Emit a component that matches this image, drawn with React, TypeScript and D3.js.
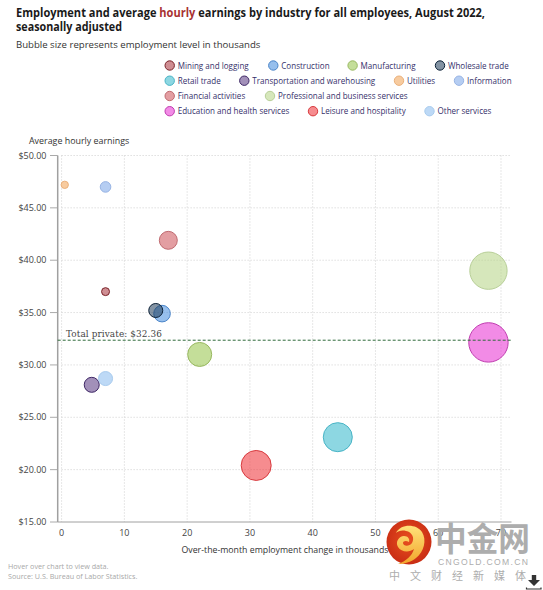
import React from "react";
import * as d3 from "d3";

const industries = ["Mining and logging","Construction","Manufacturing","Wholesale trade","Retail trade","Transportation and warehousing","Utilities","Information","Financial activities","Professional and business services","Education and health services","Leisure and hospitality","Other services"];
const employmentChange = [7,16,22,15,44,4.8,0.5,7,17,68,68,31,7];
const hourlyEarnings = [37.0,34.9,31.0,35.2,23.1,28.1,47.2,47.0,41.9,39.0,32.15,20.4,28.7];
const employmentLevel = [1000,4350,9100,3100,13300,3550,850,1770,5100,22000,24500,14200,3100];
const colors = ["#a8323a","#3f8ade","#93c245","#1d3a58","#2fb7cb","#56357f","#f0a050","#78a4e8","#cc4f55","#b4d484","#e82cd2","#ee2e33","#86baee"];
const strokes = ["#7a2228","#4a84c8","#98b860","#0d2238","#48b4c6","#3f2866","#eab07a","#98b4e4","#c06a70","#b8cf98","#c03cb0","#d83a3e","#a8cbee"];
const xTicks = [0,10,20,30,40,50,60,70];
const yTicks = [15,20,25,30,35,40,45,50];
const totalPrivate = 32.36;

const legendLayout: [number, number, number][] = [
  [0,169.7,65.5],[1,273.3,65.5],[2,352.6,65.5],[3,440,65.5],
  [4,169.7,80.7],[5,244.3,80.7],[6,399,80.7],[7,459,80.7],
  [8,169.7,96],[9,270,96],
  [10,169.7,111.2],[11,313,111.2],[12,429.5,111.2],
];

const FONT = "'Open Sans', 'Noto Sans', sans-serif";

export default function App() {
  const x = d3.scaleLinear().domain([0,70]).range([61.6,501]);
  const y = d3.scaleLinear().domain([15,50]).range([522,155.5]);
  const r = d3.scaleSqrt().domain([0,25000]).range([0,19.9]);
  const right = 511.5, axisX = 57.7;
  const order = d3.range(industries.length).sort((a,b)=>employmentLevel[b]-employmentLevel[a]);
  return (
    <svg width={543} height={590} viewBox="0 0 543 590" style={{position:"absolute",left:0,top:0,background:"#fff",fontFamily:FONT}}>
      <defs>
        <radialGradient id="logoG" cx="50%" cy="45%" r="55%">
          <stop offset="0%" stopColor="#e8501f"/><stop offset="100%" stopColor="#c92d14"/>
        </radialGradient>
        <linearGradient id="swirl" x1="0" y1="0" x2="0" y2="1">
          <stop offset="0%" stopColor="#ffe27a"/><stop offset="100%" stopColor="#f2a52b"/>
        </linearGradient>
      </defs>
      <text x={16} y={17} fontSize={11.8} fontWeight={700} fill="#1a1a1a" textLength={469} lengthAdjust="spacingAndGlyphs">Employment and average <tspan fill="#a83232">hourly</tspan> earnings by industry for all employees, August 2022,</text>
      <text x={16} y={31} fontSize={11.8} fontWeight={700} fill="#1a1a1a" textLength={106} lengthAdjust="spacingAndGlyphs">seasonally adjusted</text>
      <text x={16} y={48} fontSize={9.6} fill="#333">Bubble size represents employment level in thousands</text>

      {legendLayout.map(([i,cx,cy])=>(
        <g key={i}>
          <circle cx={cx} cy={cy} r={4.7} fill={colors[i]} fillOpacity={0.55} stroke={strokes[i]} strokeWidth={1}/>
          <text x={cx+8} y={cy+3} fontSize={8.05} fill="#35306a">{industries[i]}</text>
        </g>
      ))}

      <text x={29} y={144} fontSize={8.9} fill="#333">Average hourly earnings</text>

      {yTicks.map(t=>(
        <g key={t}>
          {t>15 && <line x1={61.6} x2={right} y1={y(t)} y2={y(t)} stroke="#cfcfcf" strokeWidth={1} strokeDasharray="1 2"/>}
          <line x1={50} x2={axisX} y1={y(t)} y2={y(t)} stroke="#aaa" strokeWidth={1}/>
          <text x={46.5} y={y(t)+3.2} fontSize={9} textAnchor="end" fill="#444">{d3.format("$.2f")(t)}</text>
        </g>
      ))}
      {xTicks.map(t=>(
        <g key={t}>
          <line x1={x(t)} x2={x(t)} y1={155.5} y2={522} stroke="#cfcfcf" strokeWidth={1} strokeDasharray="1 2"/>
          <text x={x(t)} y={536} fontSize={9} textAnchor="middle" fill="#444">{t}</text>
        </g>
      ))}
      <line x1={axisX} x2={axisX} y1={155.5} y2={522} stroke="#a0a0a0" strokeWidth={1.5}/>
      <line x1={axisX} x2={right} y1={522} y2={522} stroke="#a0a0a0" strokeWidth={1}/>

      {order.map(i=>(
        <circle key={i} cx={x(employmentChange[i])} cy={y(hourlyEarnings[i])} r={r(employmentLevel[i])} fill={colors[i]} fillOpacity={0.55} stroke={strokes[i]} strokeWidth={1}/>
      ))}

      <line x1={axisX} x2={right} y1={y(totalPrivate)} y2={y(totalPrivate)} stroke="#2f6b3a" strokeWidth={1} strokeDasharray="3 2"/>
      <text x={66} y={337} fontSize={8.9} fill="#444" fontFamily="'DejaVu Serif', serif" letterSpacing={0.1}>Total private: {d3.format("$.2f")(totalPrivate)}</text>

      <text x={181.5} y={553} fontSize={8.6} fill="#333" textLength={207} lengthAdjust="spacingAndGlyphs">Over-the-month employment change in thousands</text>
      <text x={8} y={569} fontSize={7.2} fill="#a8a8a8">Hover over chart to view data.</text>
      <text x={8} y={579} fontSize={7.2} fill="#a8a8a8">Source: U.S. Bureau of Labor Statistics.</text>

      <circle cx={409} cy={542} r={22.5} fill="url(#logoG)"/>
      <path d="M396 533c4-9 20-10 26-1 5 8 2 20-6 26-5 4-12 6-18 6 8-3 14-8 16-15-5 4-13 3-16-2-3-5 1-11 6-11 4 0 6 3 5 6-3-2-6-1-6 1 0 3 6 4 9 0 3-5 0-11-6-12-4-1-8 0-10 2z" fill="url(#swirl)"/>
      <text x={435} y={551} fontSize={33} fontWeight={700} fill="#adadad" fontFamily="'Noto Sans CJK SC', sans-serif" textLength={95} lengthAdjust="spacingAndGlyphs">中金网</text>
      <text x={438} y={565} fontSize={8.6} fill="#adadad" fontFamily="'Liberation Sans', sans-serif" textLength={90}>CNGOLD.COM.CN</text>
      <text x={389} y={580} fontSize={11} fill="#adadad" fontFamily="'Noto Sans CJK SC', sans-serif" textLength={137}>中文财经新媒体</text>

      <path d="M531.800 575h4.400v5h3.800l-6 6-6-6h3.800z" fill="#333"/>
      <path d="M526.500 587.500v1.500h14.500v-1.500" fill="none" stroke="#333" strokeWidth={1.2}/>
    </svg>
  );
}
